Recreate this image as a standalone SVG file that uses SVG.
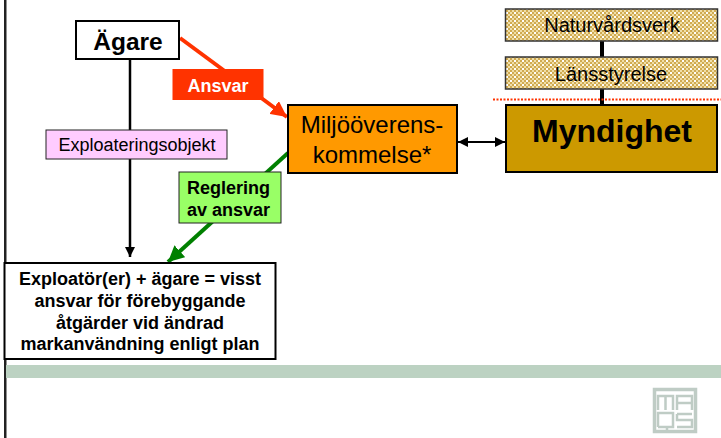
<svg xmlns="http://www.w3.org/2000/svg" width="721" height="438" viewBox="0 0 721 438">
<style>
text{font-family:"Liberation Sans",Arial,sans-serif;text-anchor:middle;fill:#000}
.b{font-weight:bold}
.box{stroke:#000;stroke-width:2}
.thin{stroke:#222;stroke-width:1}
.tan{fill:url(#dots);stroke:#333;stroke-width:1.500}
.logo{fill:none;stroke:#bfccc5;stroke-width:2.500}
</style>
<defs>
<pattern id="dots" width="8" height="8" patternUnits="userSpaceOnUse">
<rect width="8" height="8" fill="#f0dfa8"/>
<rect x="0" y="0" width="2" height="2" fill="#d0aa52"/><rect x="4" y="0" width="2" height="2" fill="#d0aa52"/>
<rect x="2" y="2" width="2" height="2" fill="#d0aa52"/><rect x="6" y="2" width="2" height="2" fill="#d0aa52"/>
<rect x="0" y="4" width="2" height="2" fill="#d0aa52"/><rect x="4" y="4" width="2" height="2" fill="#d0aa52"/>
<rect x="2" y="6" width="2" height="2" fill="#d0aa52"/><rect x="6" y="6" width="2" height="2" fill="#d0aa52"/>
<rect x="2" y="4" width="2" height="2" fill="#fff"/><rect x="6" y="0" width="2" height="2" fill="#fff"/>
</pattern>
<marker id="k" viewBox="0 0 10 10" refX="10" refY="5" markerWidth="4" markerHeight="4" orient="auto-start-reverse"><path d="M0 0L10 5L0 10z" fill="#000"/></marker>
<marker id="k2" viewBox="0 0 10 10" refX="10" refY="5" markerWidth="5" markerHeight="5" orient="auto-start-reverse"><path d="M0 0L10 5L0 10z" fill="#000"/></marker>
<marker id="r" viewBox="0 0 10 10" refX="10" refY="5" markerWidth="4" markerHeight="4" orient="auto"><path d="M0 0L10 5L0 10z" fill="#ff3300"/></marker>
<marker id="g" viewBox="0 0 10 10" refX="10" refY="5" markerWidth="4" markerHeight="4" orient="auto"><path d="M0 0L10 5L0 10z" fill="#008000"/></marker>
</defs>
<rect width="721" height="438" fill="#fff"/>
<rect x="4" y="0" width="2.500" height="438" fill="#222"/>
<rect x="6" y="365" width="715" height="13" fill="#bcd2c2"/>
<g id="connectors" fill="none">
<path d="M130 58V257" stroke="#000" stroke-width="2.500" marker-end="url(#k)"/>
<path d="M180 38L287 117" stroke="#ff3300" stroke-width="4" marker-end="url(#r)"/>
<path d="M288 153L168 262" stroke="#008000" stroke-width="4" marker-end="url(#g)"/>
<path d="M458 142H505" stroke="#000" stroke-width="2" marker-start="url(#k2)" marker-end="url(#k2)"/>
<path d="M602 41V57M602 89V105" stroke="#000" stroke-width="4"/>
</g>
<g id="node-agare"><rect class="box" x="76" y="21" width="103" height="38" fill="#fff"/><text class="b" x="128" y="49.500" font-size="24.500">Ägare</text></g>
<g id="node-ansvar"><rect x="172.500" y="69" width="91" height="31" fill="#ff3300"/><text class="b" x="218" y="92" font-size="18" style="fill:#fff">Ansvar</text></g>
<g id="node-exploateringsobjekt"><rect class="thin" x="46" y="130" width="181" height="29" fill="#ffccff"/><text x="137" y="151" font-size="18">Exploateringsobjekt</text></g>
<g id="node-miljo"><rect class="box" x="288" y="105" width="169" height="68" fill="#ff9900"/><text x="372" y="133" font-size="24">Miljööverens-</text><text x="372" y="163" font-size="24">kommelse*</text></g>
<g id="node-reglering"><rect class="thin" x="179" y="172" width="102" height="51" fill="#99ff66" stroke="#3c6e3c"/><text class="b" x="228.500" y="194" font-size="18">Reglering</text><text class="b" x="228.500" y="216" font-size="18">av ansvar</text></g>
<g id="node-naturvardsverk"><rect class="tan" x="505.500" y="9" width="212" height="32"/><text x="612" y="32" font-size="20">Naturvårdsverk</text></g>
<g id="node-lansstyrelse"><rect class="tan" x="505.500" y="57" width="212" height="32"/><text x="611" y="81" font-size="20">Länsstyrelse</text></g>
<line x1="493" y1="99.500" x2="721" y2="99.500" stroke="#ff3300" stroke-width="2" stroke-dasharray="2 1.500"/>
<g id="node-myndighet"><rect class="box" x="506" y="105" width="211" height="67" fill="#cc9900"/><text class="b" x="612" y="142" font-size="32">Myndighet</text></g>
<g id="node-exploator"><rect class="box" x="4.500" y="263" width="271" height="96" fill="#fff"/>
<text class="b" x="140" y="285" font-size="18">Exploatör(er) + ägare = visst</text>
<text class="b" x="140" y="307" font-size="18">ansvar för förebyggande</text>
<text class="b" x="140" y="329" font-size="18">åtgärder vid ändrad</text>
<text class="b" x="140" y="350" font-size="18">markanvändning enligt plan</text></g>
<g id="logo"><rect x="654.500" y="389.500" width="41" height="42" fill="none" stroke="#bfccc5" stroke-width="3.500"/>
<path class="logo" d="M658 410V396H673V410M665.500 396V410M677 410V396H692V410M677 403H692M658 427V413H673V427H658M667 427V431M677 414H692M677 414V420H692V427H677"/></g>
</svg>
